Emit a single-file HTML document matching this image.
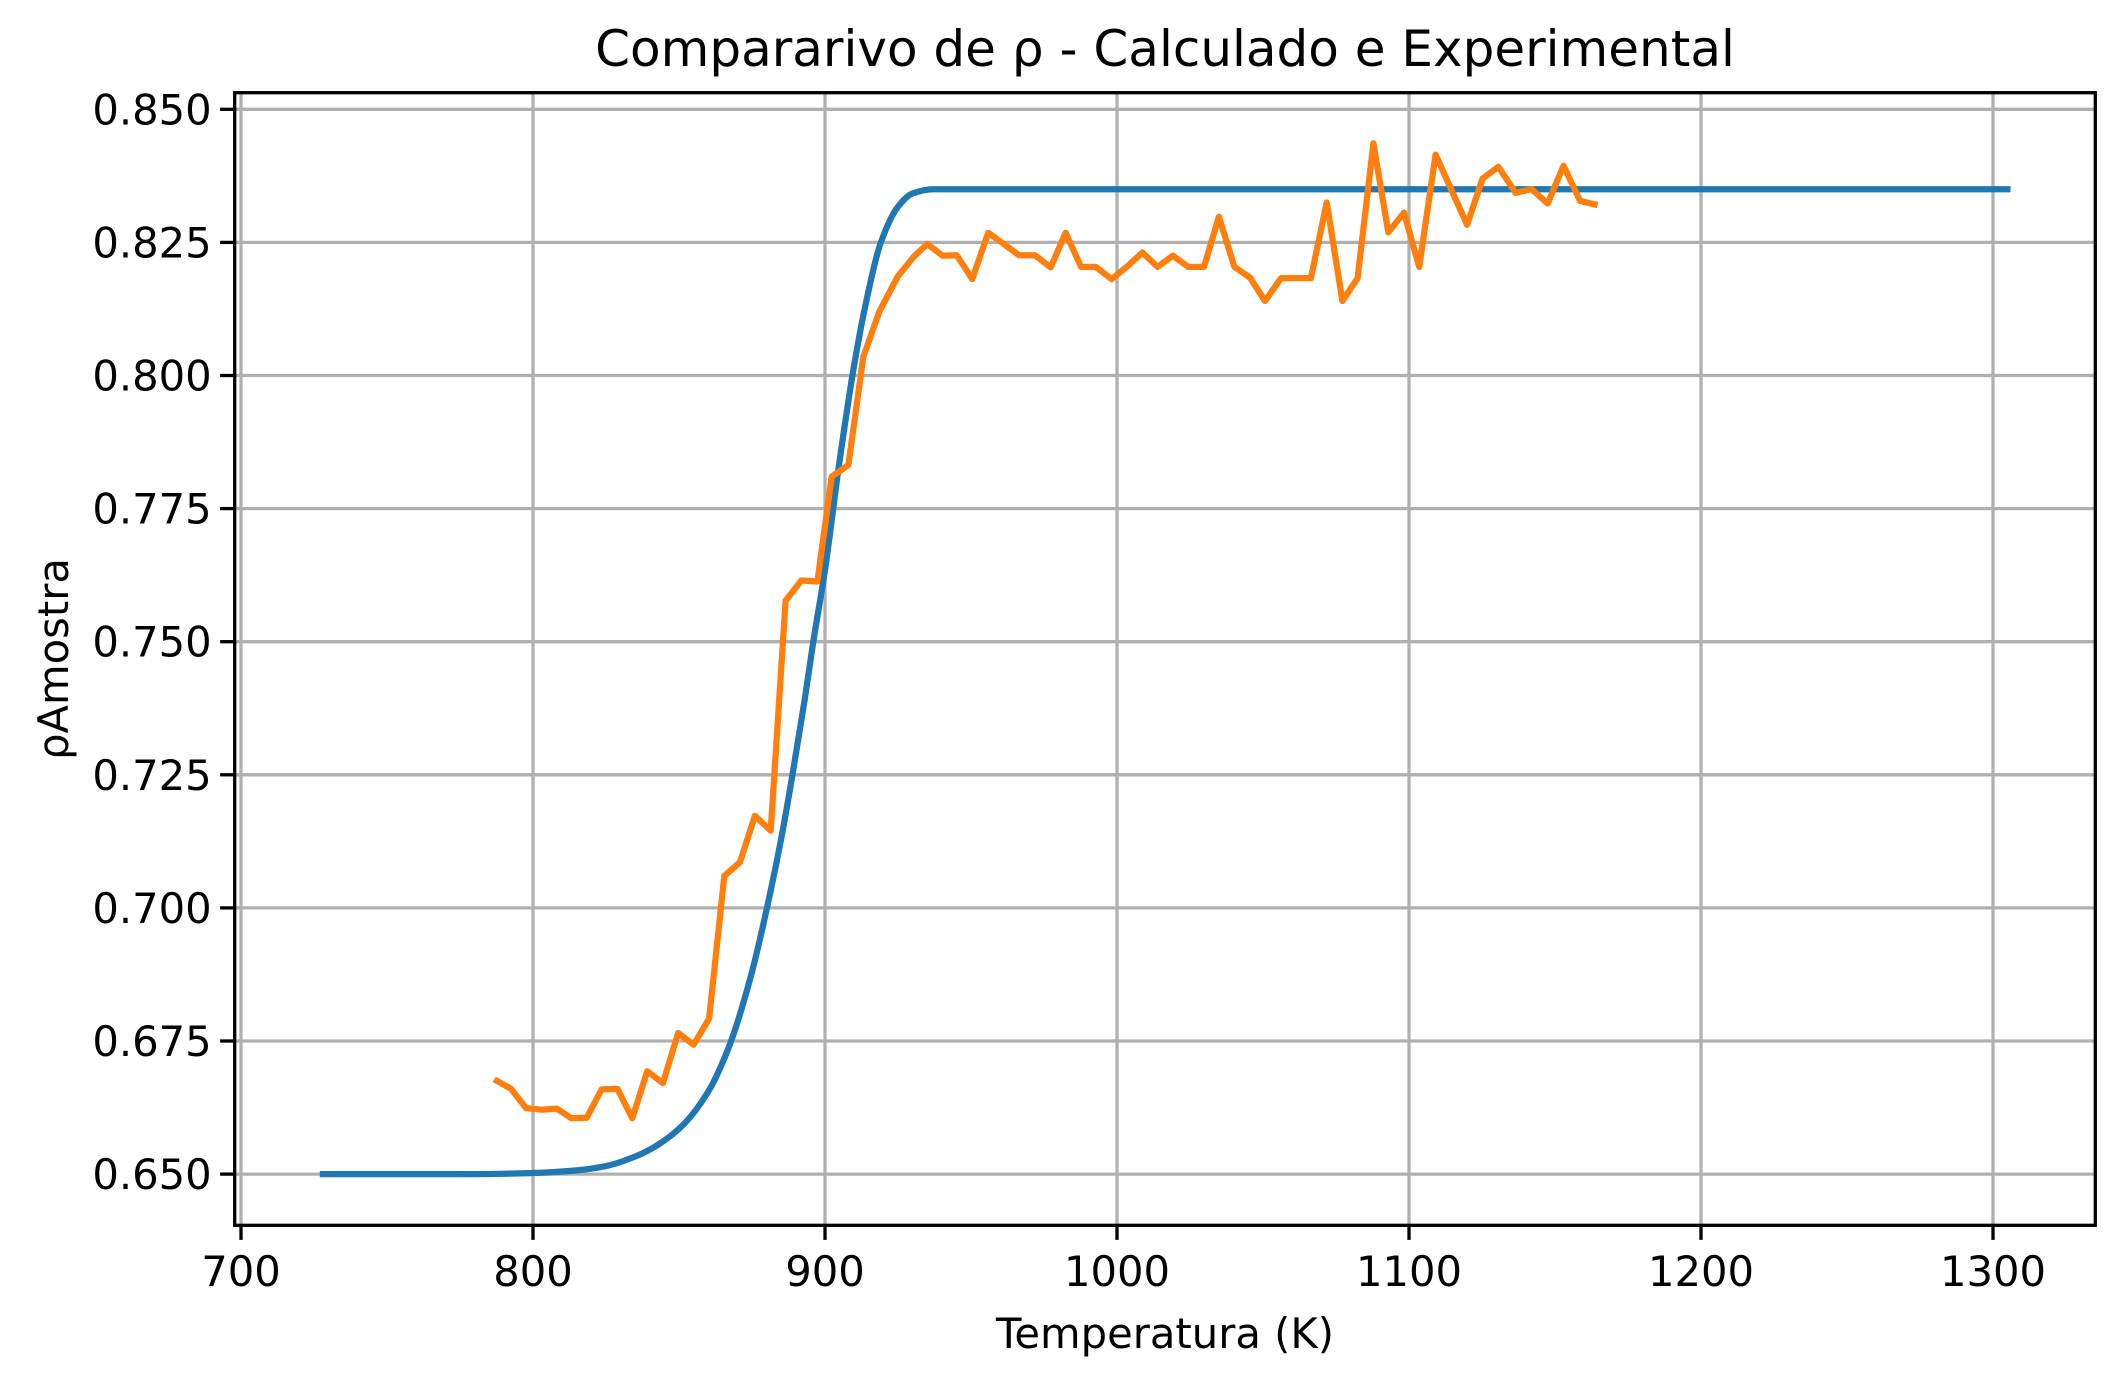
<!DOCTYPE html>
<html><head><meta charset="utf-8"><style>
html,body{margin:0;padding:0;background:#fff}
svg{display:block}
text{font-family:"DejaVu Sans","Liberation Sans",sans-serif;fill:#000}
</style></head><body>
<svg id="chart" width="2125" height="1381" viewBox="0 0 2125 1381" xmlns="http://www.w3.org/2000/svg">
<rect width="2125" height="1381" fill="#fff"/>
<g id="grid"></g>
<g id="series"></g>
<g id="axes"></g>
<text x="1165" y="66" font-size="50" text-anchor="middle">Compararivo de ρ - Calculado e Experimental</text>
<text x="1165" y="1348" font-size="41.7" text-anchor="middle">Temperatura (K)</text>
<text x="0" y="0" font-size="41.7" text-anchor="middle" transform="translate(68,659) rotate(-90)">ρAmostra</text>
</svg>
<script>
const xTicks = [700, 800, 900, 1000, 1100, 1200, 1300];
const yTicks = [0.650, 0.675, 0.700, 0.725, 0.750, 0.775, 0.800, 0.825, 0.850];
const yTickLabels = ["0.650","0.675","0.700","0.725","0.750","0.775","0.800","0.825","0.850"];
const calcT = [727, 780, 800, 815, 825, 835, 840, 850, 860, 867.5, 875, 880, 885, 889, 893, 896, 900, 905, 910, 914, 919, 925, 930, 937, 1000, 1306];
const calcRho = [0.650, 0.650, 0.6502, 0.6507, 0.6515, 0.6533, 0.6546, 0.6585, 0.6655, 0.6745, 0.688, 0.6997, 0.713, 0.7255, 0.739, 0.750, 0.7635, 0.784, 0.802, 0.8136, 0.8248, 0.8317, 0.8342, 0.835, 0.835, 0.835];
const expT = [786.7, 792.5, 797.6, 803, 808.1, 813.2, 818.4, 823.5, 828.9, 834, 839.1, 844.5, 849.7, 855, 860.3, 865.5, 870.9, 876, 881.4, 886.5, 891.9, 897.4, 902.3, 908, 913.1, 918.6, 924.9, 930.2, 935, 940.3, 945.1, 950.4, 955.9, 961, 966.4, 971.9, 977.3, 982.4, 987.7, 992.7, 998.2, 1003.3, 1008.7, 1013.9, 1019.1, 1024.4, 1029.8, 1034.9, 1040.2, 1045.5, 1050.7, 1056.2, 1061.3, 1066.4, 1071.8, 1077.2, 1082.4, 1087.8, 1092.9, 1098.3, 1103.5, 1109.1, 1114.5, 1119.9, 1125.2, 1130.6, 1136.5, 1142, 1147.5, 1152.9, 1158.6, 1164.6];
const expRho = [0.6678, 0.666, 0.6624, 0.6621, 0.6623, 0.6605, 0.6606, 0.6659, 0.666, 0.6605, 0.6693, 0.6671, 0.6765, 0.6743, 0.6792, 0.706, 0.7086, 0.7173, 0.7145, 0.7577, 0.7615, 0.7613, 0.781, 0.7832, 0.8035, 0.812, 0.8186, 0.8222, 0.8247, 0.8225, 0.8226, 0.8181, 0.8268, 0.8248, 0.8226, 0.8226, 0.8203, 0.8268, 0.8204, 0.8204, 0.8181, 0.8204, 0.8231, 0.8204, 0.8225, 0.8204, 0.8204, 0.8298, 0.8204, 0.8184, 0.814, 0.8183, 0.8183, 0.8183, 0.8325, 0.814, 0.8183, 0.8436, 0.8269, 0.8306, 0.8204, 0.8415, 0.8349, 0.8283, 0.837, 0.8392, 0.8343, 0.835, 0.8323, 0.8394, 0.8328, 0.832];

const L = 234.7, R = 2095.3, T0 = 92.7, B = 1225.3;
function xScale(t){ return 241 + (t - 700) * 2.92; }
function yScale(v){ return 109.3 + (0.850 - v) * 5324; }
const NS = "http://www.w3.org/2000/svg";
function mk(tag, attrs, parent){
  const e = document.createElementNS(NS, tag);
  for (const k in attrs) e.setAttribute(k, attrs[k]);
  parent.appendChild(e); return e;
}
const grid = document.getElementById('grid');
const axes = document.getElementById('axes');
const series = document.getElementById('series');

xTicks.forEach(t => {
  const x = xScale(t);
  const g = mk('line', {x1:x, x2:x, y1:T0, y2:B, stroke:'#b0b0b0', 'stroke-width':3.3}, grid);
  
  
  const tk = mk('line', {x1:x, x2:x, y1:B, y2:B+14.6, stroke:'#000', 'stroke-width':3.3}, axes);
  
  
  const lb = mk('text', {x:x, y:1286, 'font-size':41.7, 'text-anchor':'middle'}, axes);
  lb.textContent = String(t);
  
  
});
yTicks.forEach((v, i) => {
  const y = yScale(v);
  const g = mk('line', {x1:L, x2:R, y1:y, y2:y, stroke:'#b0b0b0', 'stroke-width':3.3}, grid);
  
  
  const tk = mk('line', {x1:L-14.6, x2:L, y1:y, y2:y, stroke:'#000', 'stroke-width':3.3}, axes);
  
  
  const lb = mk('text', {x:L-23, y:y+15, 'font-size':41.7, 'text-anchor':'end'}, axes);
  lb.textContent = yTickLabels[i];
  
  
});
const frame = mk('rect', {x:L, y:T0, width:R-L, height:B-T0, fill:'none', stroke:'#000', 'stroke-width':3.3}, axes);



// monotone cubic path (Fritsch-Carlson) in pixel space
function monotonePath(ts, vs){
  const xs = ts.map(xScale), ys = vs.map(yScale), n = xs.length;
  const d = [], m = new Array(n);
  for (let i=0;i<n-1;i++) d.push((ys[i+1]-ys[i])/(xs[i+1]-xs[i]));
  m[0]=d[0]; m[n-1]=d[n-2];
  for (let i=1;i<n-1;i++){
    if (d[i-1]*d[i] <= 0) m[i]=0;
    else { const w1=2*(xs[i+1]-xs[i])+(xs[i]-xs[i-1]), w2=(xs[i+1]-xs[i])+2*(xs[i]-xs[i-1]); m[i]=(w1+w2)/(w1/d[i-1]+w2/d[i]); }
  }
  let p = 'M'+xs[0].toFixed(1)+','+ys[0].toFixed(1);
  for (let i=0;i<n-1;i++){
    const h=(xs[i+1]-xs[i])/3;
    p += ' C'+(xs[i]+h).toFixed(1)+','+(ys[i]+m[i]*h).toFixed(1)+' '+(xs[i+1]-h).toFixed(1)+','+(ys[i+1]-m[i+1]*h).toFixed(1)+' '+xs[i+1].toFixed(1)+','+ys[i+1].toFixed(1);
  }
  return p;
}
function pts(ts, vs){ return ts.map((t,i)=> xScale(t).toFixed(1)+','+yScale(vs[i]).toFixed(1)).join(' '); }
const calc = mk('path', {d:monotonePath(calcT, calcRho), fill:'none', stroke:'#1f77b4', 'stroke-width':6.25, 'stroke-linejoin':'round'}, series);


const exp = mk('polyline', {points:pts(expT, expRho), fill:'none', stroke:'#ff7f0e', 'stroke-width':6.25, 'stroke-linejoin':'round'}, series);


</script>
</body></html>
